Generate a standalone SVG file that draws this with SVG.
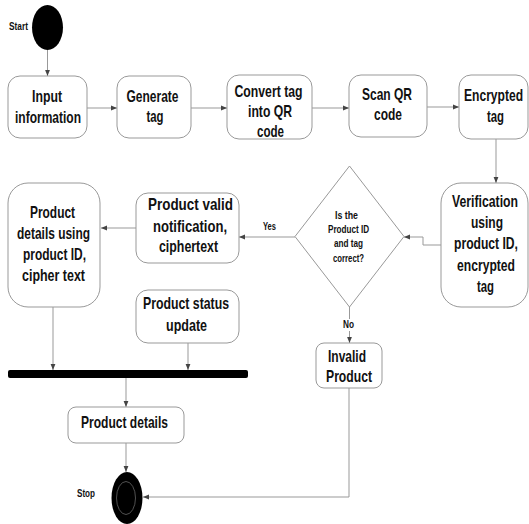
<svg xmlns="http://www.w3.org/2000/svg" width="529" height="524" viewBox="0 0 529 524">
<defs>
<marker id="ah" viewBox="0 0 10 10" refX="10" refY="5" markerWidth="6" markerHeight="6" markerUnits="userSpaceOnUse" orient="auto">
<path d="M0,1 L10,5 L0,9 z" fill="#444"/>
</marker>
<style>
.box{fill:#fff;stroke:#999;stroke-width:1}
.t{font-family:"Liberation Sans",Arial,sans-serif;font-weight:bold;font-size:17px;fill:#111;text-anchor:middle}
.s{font-family:"Liberation Sans",Arial,sans-serif;font-weight:bold;font-size:10.5px;fill:#111;text-anchor:middle}
.c{fill:none;stroke:#999;stroke-width:1;marker-end:url(#ah)}
.n{fill:none;stroke:#999;stroke-width:1}
</style>
</defs>
<rect width="529" height="524" fill="#fff"/>
<g id="connectors">
<path class="c" d="M47.5,50 V76"/>
<path class="c" d="M87,108 H117"/>
<path class="c" d="M191,108 H227"/>
<path class="c" d="M312,108 H349"/>
<path class="c" d="M427,107 H459"/>
<path class="c" d="M496,139 V183"/>
<path class="c" d="M441,245 H423 V237 H404"/>
<path class="c" d="M295,237 H239"/>
<path class="c" d="M136,228 H101"/>
<path class="c" d="M53,307 V370"/>
<path class="c" d="M188,343 V370"/>
<path class="c" d="M126,378 V407"/>
<path class="c" d="M126,443 V472"/>
<path class="n" d="M349.5,306 V319"/>
<path class="c" d="M349.5,331 V343"/>
<path class="c" d="M349,388 V497 H143"/>
</g>
<g id="start">
<ellipse cx="47.5" cy="27.5" rx="15.5" ry="22.5" fill="#000"/>
<text class="s" transform="translate(18.5,0) scale(0.75,1)" x="0" y="30.5" textLength="25.3" lengthAdjust="spacingAndGlyphs">Start</text>
</g>
<g id="input">
<rect class="box" x="8" y="76" width="79" height="62" rx="12"/>
<text class="t" transform="translate(47,0) scale(0.75,1)" x="0" y="101.7" textLength="40" lengthAdjust="spacingAndGlyphs">Input</text>
<text class="t" transform="translate(48,0) scale(0.75,1)" x="0" y="123.3" textLength="88" lengthAdjust="spacingAndGlyphs">information</text>
</g>
<g id="generate">
<rect class="box" x="117" y="76" width="74" height="62" rx="12"/>
<text class="t" transform="translate(152.5,0) scale(0.75,1)" x="0" y="101.7" textLength="69.3" lengthAdjust="spacingAndGlyphs">Generate</text>
<text class="t" transform="translate(155,0) scale(0.75,1)" x="0" y="122.3" textLength="22.7" lengthAdjust="spacingAndGlyphs">tag</text>
</g>
<g id="convert">
<rect class="box" x="227" y="75" width="85" height="64" rx="12"/>
<text class="t" transform="translate(268.5,0) scale(0.75,1)" x="0" y="96.7" textLength="90.7" lengthAdjust="spacingAndGlyphs">Convert tag</text>
<text class="t" transform="translate(270,0) scale(0.75,1)" x="0" y="116.7" textLength="58.7" lengthAdjust="spacingAndGlyphs">into QR</text>
<text class="t" transform="translate(270.5,0) scale(0.75,1)" x="0" y="136.7" textLength="36" lengthAdjust="spacingAndGlyphs">code</text>
</g>
<g id="scan">
<rect class="box" x="349" y="75" width="78" height="62" rx="12"/>
<text class="t" transform="translate(387,0) scale(0.75,1)" x="0" y="100" textLength="66.7" lengthAdjust="spacingAndGlyphs">Scan QR</text>
<text class="t" transform="translate(388,0) scale(0.75,1)" x="0" y="120.3" textLength="37.3" lengthAdjust="spacingAndGlyphs">code</text>
</g>
<g id="encrypted">
<rect class="box" x="459" y="75" width="69" height="64" rx="12"/>
<text class="t" transform="translate(493.5,0) scale(0.75,1)" x="0" y="100.7" textLength="78.7" lengthAdjust="spacingAndGlyphs">Encrypted</text>
<text class="t" transform="translate(495.5,0) scale(0.75,1)" x="0" y="121.7" textLength="22.7" lengthAdjust="spacingAndGlyphs">tag</text>
</g>
<g id="verification">
<rect class="box" x="441" y="183" width="87" height="124" rx="20"/>
<text class="t" transform="translate(485,0) scale(0.75,1)" x="0" y="207.3" textLength="88" lengthAdjust="spacingAndGlyphs">Verification</text>
<text class="t" transform="translate(487,0) scale(0.75,1)" x="0" y="227.7" textLength="42.7" lengthAdjust="spacingAndGlyphs">using</text>
<text class="t" transform="translate(486,0) scale(0.75,1)" x="0" y="249.3" textLength="85.3" lengthAdjust="spacingAndGlyphs">product ID,</text>
<text class="t" transform="translate(486,0) scale(0.75,1)" x="0" y="271" textLength="77.3" lengthAdjust="spacingAndGlyphs">encrypted</text>
<text class="t" transform="translate(485.5,0) scale(0.75,1)" x="0" y="291.7" textLength="22.7" lengthAdjust="spacingAndGlyphs">tag</text>
</g>
<g id="decision">
<polygon points="349.5,166 404,236.5 349.5,307 295,236.5" fill="#fff" stroke="#999" stroke-width="1"/>
<text class="s" transform="translate(346.5,0) scale(0.75,1)" x="0" y="219.3" textLength="30.7" lengthAdjust="spacingAndGlyphs">Is the</text>
<text class="s" transform="translate(348.5,0) scale(0.75,1)" x="0" y="233.3" textLength="54.7" lengthAdjust="spacingAndGlyphs">Product ID</text>
<text class="s" transform="translate(348.5,0) scale(0.75,1)" x="0" y="247.3" textLength="38.7" lengthAdjust="spacingAndGlyphs">and tag</text>
<text class="s" transform="translate(348.5,0) scale(0.75,1)" x="0" y="261.7" textLength="41.3" lengthAdjust="spacingAndGlyphs">correct?</text>
<text class="s" transform="translate(269.5,0) scale(0.75,1)" x="0" y="230" textLength="17.3" lengthAdjust="spacingAndGlyphs">Yes</text>
<text class="s" transform="translate(348.5,0) scale(0.75,1)" x="0" y="327.7" textLength="14.7" lengthAdjust="spacingAndGlyphs">No</text>
</g>
<g id="valid">
<rect class="box" x="136" y="193" width="103" height="70" rx="12"/>
<text class="t" transform="translate(190.5,0) scale(0.75,1)" x="0" y="210" textLength="113.3" lengthAdjust="spacingAndGlyphs">Product valid</text>
<text class="t" transform="translate(190,0) scale(0.75,1)" x="0" y="231.7" textLength="98.7" lengthAdjust="spacingAndGlyphs">notification,</text>
<text class="t" transform="translate(188.5,0) scale(0.75,1)" x="0" y="252.3" textLength="78.7" lengthAdjust="spacingAndGlyphs">ciphertext</text>
</g>
<g id="details-using">
<rect class="box" x="8" y="183" width="92" height="124" rx="20"/>
<text class="t" transform="translate(52.5,0) scale(0.75,1)" x="0" y="217.7" textLength="60" lengthAdjust="spacingAndGlyphs">Product</text>
<text class="t" transform="translate(53.5,0) scale(0.75,1)" x="0" y="239.3" textLength="97.3" lengthAdjust="spacingAndGlyphs">details using</text>
<text class="t" transform="translate(54.5,0) scale(0.75,1)" x="0" y="260" textLength="84" lengthAdjust="spacingAndGlyphs">product ID,</text>
<text class="t" transform="translate(53.5,0) scale(0.75,1)" x="0" y="280.7" textLength="84" lengthAdjust="spacingAndGlyphs">cipher text</text>
</g>
<g id="status">
<rect class="box" x="136" y="290" width="103" height="53" rx="12"/>
<text class="t" transform="translate(186,0) scale(0.75,1)" x="0" y="309.3" textLength="114.7" lengthAdjust="spacingAndGlyphs">Product status</text>
<text class="t" transform="translate(186.5,0) scale(0.75,1)" x="0" y="330.7" textLength="54.7" lengthAdjust="spacingAndGlyphs">update</text>
</g>
<g id="join-bar">
<rect x="8" y="370" width="240" height="8" rx="2" fill="#000"/>
</g>
<g id="product-details">
<rect class="box" x="68" y="407" width="116" height="36" rx="8"/>
<text class="t" transform="translate(124.5,0) scale(0.75,1)" x="0" y="428.3" textLength="116" lengthAdjust="spacingAndGlyphs">Product details</text>
</g>
<g id="invalid">
<rect class="box" x="316" y="343" width="66" height="45" rx="8"/>
<text class="t" transform="translate(347,0) scale(0.75,1)" x="0" y="361.7" textLength="50.7" lengthAdjust="spacingAndGlyphs">Invalid</text>
<text class="t" transform="translate(349,0) scale(0.75,1)" x="0" y="381.7" textLength="61.3" lengthAdjust="spacingAndGlyphs">Product</text>
</g>
<g id="stop">
<ellipse cx="127" cy="498" rx="15.5" ry="26" fill="#000"/>
<ellipse cx="126" cy="498" rx="9.5" ry="16.5" fill="none" stroke="#666" stroke-width="0.8"/>
<text class="s" transform="translate(86,0) scale(0.75,1)" x="0" y="496.7" textLength="24" lengthAdjust="spacingAndGlyphs">Stop</text>
</g>
</svg>
